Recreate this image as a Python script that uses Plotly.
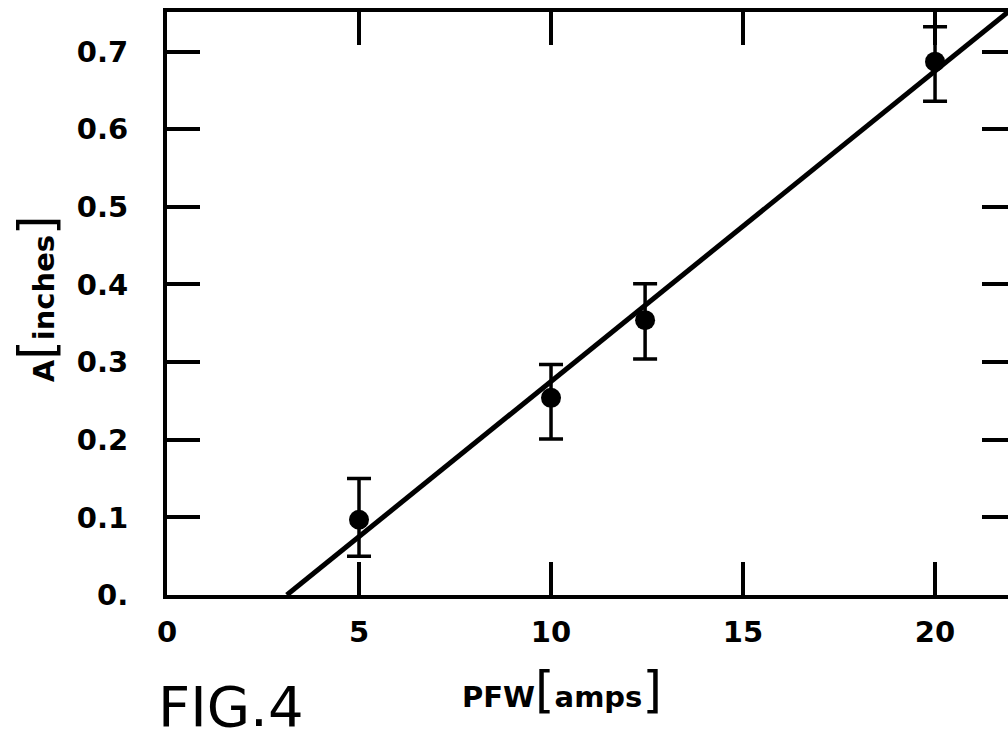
import plotly.graph_objects as go

# Data
pfw_amps = [5.0, 10.0, 12.45, 20.0]
a_inches = [0.097, 0.254, 0.354, 0.687]
err_plus = [0.053, 0.043, 0.047, 0.045]
err_minus = [0.047, 0.053, 0.050, 0.051]

fit_x = [3.12, 22.0]
fit_y = [0.0, 0.755]

x_tickvals = [0, 5, 10, 15, 20]
x_ticktext = ["0", "5", "10", "15", "20"]
y_tickvals = [0, 0.1, 0.2, 0.3, 0.4, 0.5, 0.6, 0.7]
y_ticktext = ["0.", "0.1", "0.2", "0.3", "0.4", "0.5", "0.6", "0.7"]

FONT = "DejaVu Sans"
BR = "<span style='font-size:50px;font-weight:normal'>%s</span>"

fig = go.Figure()
fig.add_trace(go.Scatter(
    x=fit_x, y=fit_y, mode="lines",
    line=dict(color="black", width=5), showlegend=False, hoverinfo="skip"))
fig.add_trace(go.Scatter(
    x=pfw_amps, y=a_inches, mode="markers",
    marker=dict(color="black", size=20),
    error_y=dict(type="data", symmetric=False, array=err_plus, arrayminus=err_minus,
                 color="black", thickness=3.5, width=12),
    showlegend=False))
# invisible companion trace to carry the right-hand tick axis
fig.add_trace(go.Scatter(
    x=pfw_amps, y=a_inches, mode="markers", yaxis="y2",
    marker=dict(color="rgba(0,0,0,0)", size=1), showlegend=False, hoverinfo="skip"))

fig.update_layout(
    width=1008, height=739,
    margin=dict(l=167, r=0, t=12, b=144),
    paper_bgcolor="white", plot_bgcolor="white",
    font=dict(family=FONT, color="black"),
    xaxis=dict(range=[0, 21.9], tickvals=x_tickvals, ticktext=x_ticktext,
               ticks="inside", ticklen=33, tickwidth=3.5, tickcolor="black",
               showline=True, linewidth=4, linecolor="black", mirror="ticks",
               showgrid=False, zeroline=False, ticklabelstandoff=8,
               tickfont=dict(family=FONT, size=29, weight="bold")),
    yaxis=dict(range=[0, 0.751], tickvals=y_tickvals, ticktext=y_ticktext,
               ticks="inside", ticklen=33, tickwidth=3.5, tickcolor="black",
               showline=True, linewidth=4, linecolor="black", mirror=False,
               showgrid=False, zeroline=False, ticklabelstandoff=29,
               tickfont=dict(family=FONT, size=29, weight="bold")),
    yaxis2=dict(range=[0, 0.751], overlaying="y", side="right",
                tickvals=y_tickvals[1:], ticks="inside", ticklen=26, tickwidth=3.5,
                tickcolor="black", showline=False, showgrid=False, zeroline=False,
                showticklabels=False),
    annotations=[
        dict(text="PFW" + BR % "[" + "amps" + BR % "]",
             xref="paper", yref="paper", x=0.47, y=-0.163,
             xanchor="center", yanchor="middle", showarrow=False,
             font=dict(family=FONT, size=29, weight="bold")),
        dict(text="A" + BR % "[" + "inches" + BR % "]",
             xref="paper", yref="paper", x=-0.1546, y=0.509, textangle=-90,
             xanchor="center", yanchor="middle", showarrow=False,
             font=dict(family=FONT, size=29, weight="bold")),
        dict(text="FIG.4", xref="paper", yref="paper", x=0.076, y=-0.192,
             xanchor="center", yanchor="middle", showarrow=False,
             font=dict(family=FONT, size=56)),
    ],
)

fig.write_html("out.html")
